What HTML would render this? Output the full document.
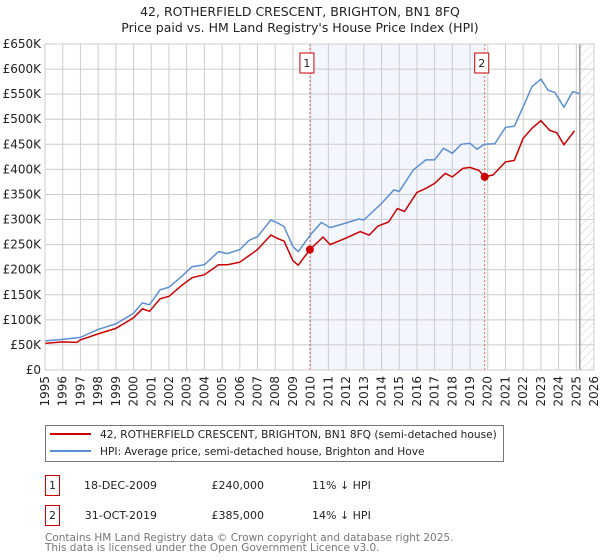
<!DOCTYPE html>
<html><head><meta charset="utf-8"><style>
body{margin:0;background:#fff;font-family:"DejaVu Sans","Liberation Sans",sans-serif;}
#wrap{position:relative;width:600px;height:560px;overflow:hidden}
svg text{font-family:"DejaVu Sans","Liberation Sans",sans-serif}
</style></head><body><div id="wrap">
<svg id="c" width="600" height="560"></svg>
</div>
<script>
const yTicks=[0,50,100,150,200,250,300,350,400,450,500,550,600,650];
const years=[1995,1996,1997,1998,1999,2000,2001,2002,2003,2004,2005,2006,2007,2008,2009,2010,2011,2012,2013,2014,2015,2016,2017,2018,2019,2020,2021,2022,2023,2024,2025,2026];
const hpiT=[1995,1996,1997,1998,1999,2000,2000.5,2000.9,2001.5,2002,2002.7,2003.3,2004,2004.8,2005.3,2006,2006.5,2007,2007.75,2008.2,2008.5,2009,2009.3,2010,2010.6,2011.1,2012,2012.7,2013,2014,2014.7,2015,2015.8,2016.5,2017,2017.5,2018,2018.5,2019,2019.4,2019.8,2020.4,2021,2021.5,2022,2022.5,2023,2023.4,2023.8,2024.3,2024.8,2025.2];
const hpiV=[58,61,65,81,92,113,134,130,160,165,186,206,210,236,232,240,258,266,299,292,286,246,236,270,294,284,293,301,299,332,359,356,399,419,419,442,432,450,452,440,450,451,484,486,525,565,580,558,553,524,555,551];
const ppT=[1995,1996,1996.8,1997,1998,1999,2000,2000.5,2000.9,2001.5,2002,2002.7,2003.3,2004,2004.8,2005.3,2006,2007,2007.75,2008.2,2008.5,2009,2009.3,2009.96,2010.7,2011.1,2012,2012.8,2013.3,2013.8,2014.4,2014.9,2015.3,2016,2016.5,2017,2017.6,2018,2018.6,2019,2019.5,2019.83,2020.3,2021,2021.5,2022,2022.5,2023,2023.5,2023.9,2024.3,2024.9];
const ppV=[53,56,55,60,72,83,104,122,117,142,147,168,184,190,210,210,215,240,269,261,257,218,209,240,265,250,263,276,269,287,295,322,316,354,362,372,392,385,402,404,398,385,389,415,418,462,482,497,478,473,449,477];
const saleT=[2009.96,2019.83];
const saleV=[240,385];
const saleLbl=["1","2"];
const NS="http://www.w3.org/2000/svg";
const svg=document.getElementById('c');
const X0=45,X1=594,Y0=370,Y1=44;
const x=t=>X0+(t-1995)*(X1-X0)/31;
const y=v=>Y0-v*(Y0-Y1)/650;
function mk(tag,attrs,parent){const e=document.createElementNS(NS,tag);for(const k in attrs)e.setAttribute(k,attrs[k]);(parent||svg).appendChild(e);return e;}
const defs=mk('defs',{});
const pat=mk('pattern',{id:'hatch',width:6,height:6,patternUnits:'userSpaceOnUse',patternTransform:'rotate(45)'},defs);
mk('line',{x1:0,y1:0,x2:0,y2:6,stroke:'#ccc','stroke-width':1},pat);
let r=mk('rect',{x:x(saleT[0]),y:Y1,width:x(saleT[1])-x(saleT[0]),height:Y0-Y1,fill:'#f3f6fe'});


r=mk('rect',{x:x(2025.2),y:Y1,width:X1-x(2025.2),height:Y0-Y1,fill:'url(#hatch)'});


yTicks.forEach(v=>{
 const l=mk('line',{x1:X0,x2:X1,y1:y(v),y2:y(v),stroke:'#ccc','stroke-width':1});
 
 
 const t=mk('text',{x:X0-4,y:y(v)+4,'text-anchor':'end','font-size':12,fill:'#222'});
 t.textContent=v===0?'£0':'£'+v+'K';
 
 
});
years.forEach(yr=>{
 const l=mk('line',{x1:x(yr),x2:x(yr),y1:Y1,y2:Y0,stroke:'#ccc','stroke-width':1});
 
 
 const t=mk('text',{x:0,y:0,'text-anchor':'end','font-size':12,fill:'#222',transform:`translate(${x(yr)+4},${Y0+6}) rotate(-90)`});
 t.textContent=yr;
 
 
});
const vl=mk('line',{x1:x(2025.2),x2:x(2025.2),y1:Y1,y2:Y0,stroke:'#999','stroke-width':1.5});


saleT.forEach((t,i)=>{
 const l=mk('line',{x1:x(t),x2:x(t),y1:Y1,y2:Y0,stroke:'#e06060','stroke-width':1,'stroke-dasharray':'2,2'});
 
 
 const b=mk('rect',{x:x(t)-10,y:53,width:14,height:20,fill:'#fff',stroke:'#c00','stroke-width':1});
 
 
 const tx=mk('text',{x:x(t)-3,y:67,'text-anchor':'middle','font-size':11,fill:'#222'});
 tx.textContent=saleLbl[i];
 
 
});
function line(T,V,col,name){
 const p=mk('path',{d:T.map((t,i)=>(i?'L':'M')+x(t).toFixed(1)+','+y(V[i]).toFixed(1)).join(''),fill:'none',stroke:col,'stroke-width':1.5});
 
 
}
line(hpiT,hpiV,'#5b8fd4','hpi-line');
line(ppT,ppV,'#cc0000','price-paid-line');
saleT.forEach((t,i)=>{
 const c=mk('circle',{cx:x(t),cy:y(saleV[i]),r:4,fill:'#cc0000'});
 
 
});
const fr=mk('rect',{x:X0,y:Y1,width:X1-X0,height:Y0-Y1,fill:'none',stroke:'#ccc'});


[['42, ROTHERFIELD CRESCENT, BRIGHTON, BN1 8FQ',16],["Price paid vs. HM Land Registry's House Price Index (HPI)",32]].forEach(([s,yy],i)=>{
 const t=mk('text',{x:300,y:yy,'text-anchor':'middle','font-size':12.5,fill:'#222'});
 t.textContent=s;
 
 
});
const lg=mk('rect',{x:45.5,y:425.5,width:458,height:36,fill:'#fff',stroke:'#777'});


[['#cc0000','42, ROTHERFIELD CRESCENT, BRIGHTON, BN1 8FQ (semi-detached house)',434],['#5b8fd4','HPI: Average price, semi-detached house, Brighton and Hove',451]].forEach(([c,s,yy],i)=>{
 const l=mk('line',{x1:50,x2:91,y1:yy,y2:yy,stroke:c,'stroke-width':2});
 
 
 const t=mk('text',{x:100,y:yy+4,'font-size':10.6,fill:'#222'});
 t.textContent=s;
 
 
});
[['1','18-DEC-2009','£240,000','11% ↓ HPI',475],['2','31-OCT-2019','£385,000','14% ↓ HPI',505]].forEach(row=>{
 const yy=row[4];
 const b=mk('rect',{x:45.5,y:yy+0.5,width:14,height:20,fill:'#fff',stroke:'#c00'});
 
 
 const vals=[[row[0],52.5,'middle'],[row[1],157,'end'],[row[2],264,'end'],[row[3],312,'start']];
 vals.forEach(([s,xx,a])=>{
  const t=mk('text',{x:xx,y:yy+14,'text-anchor':a,'font-size':11,fill:'#222'});
  t.textContent=s;
  
  
 });
});
[['Contains HM Land Registry data © Crown copyright and database right 2025.',541],['This data is licensed under the Open Government Licence v3.0.',551]].forEach(([s,yy])=>{
 const t=mk('text',{x:45,y:yy,'font-size':10.5,fill:'#777'});
 t.textContent=s;
 
 
});
</script></body></html>
